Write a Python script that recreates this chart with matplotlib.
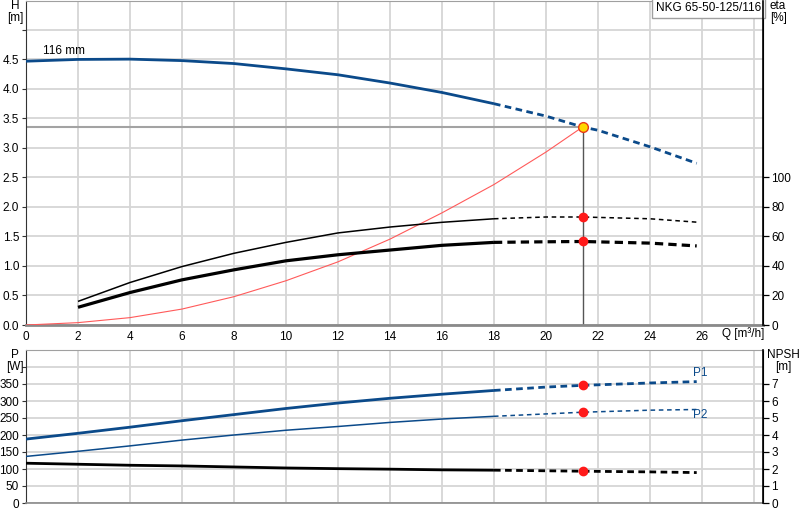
import matplotlib
matplotlib.use("Agg")
import matplotlib.pyplot as plt
import numpy as np

plt.rcParams['font.family'] = ['Liberation Sans', 'DejaVu Sans']

# ---------------- data ----------------
title_text = "NKG 65-50-125/116"
impeller_label = "116 mm"

q_split = 18.0            # curves solid up to here, dashed beyond
duty_q = 21.41
duty_h = 3.355
duty_eta_thin = 73.2
duty_eta_thick = 56.6
duty_p1 = 346
duty_p2 = 267
duty_npsh = 1.87

# head curve H [m]
h_q = [0, 2, 4, 6, 8, 10, 12, 14, 16, 18, 20, 21.41, 22, 24, 25.8]
h_val = [4.47, 4.50, 4.505, 4.48, 4.43, 4.34, 4.24, 4.10, 3.94, 3.75, 3.54, 3.355, 3.30, 3.02, 2.74]

# system curve (red) H [m]
sys_q = [0, 2, 4, 6, 8, 10, 12, 14, 16, 18, 20, 21.41]
sys_h = [0.0, 0.04, 0.125, 0.27, 0.48, 0.75, 1.07, 1.455, 1.90, 2.38, 2.93, 3.355]

# efficiency curves eta [%]
eta_q = [2, 4, 6, 8, 10, 12, 14, 16, 18, 20, 21.41, 24, 25.8]
eta_thin = [16.0, 28.8, 39.6, 48.6, 56.0, 62.4, 66.4, 69.6, 72.0, 73.2, 73.2, 72.0, 69.7]
eta_thick = [12.0, 22.0, 30.6, 37.4, 43.5, 47.6, 50.8, 54.0, 56.0, 56.4, 56.6, 55.5, 53.6]

# power curves P [W]
p_q = [0, 2, 4, 6, 8, 10, 12, 14, 16, 18, 20, 21.41, 24, 25.8]
p1 = [188, 205, 223, 242, 260, 278, 294, 308, 320, 331, 341, 346, 353, 357]
p2 = [137, 152, 168, 185, 200, 214, 225, 237, 247, 255, 262, 267, 273, 275]

# NPSH [m]
npsh_q = [0, 2, 4, 6, 8, 10, 12, 14, 16, 18, 21.41, 24, 25.8]
npsh = [2.34, 2.28, 2.22, 2.18, 2.12, 2.06, 2.02, 1.99, 1.95, 1.93, 1.87, 1.83, 1.79]

x_ticks = list(range(0, 30, 2))
x_labels = [str(v) for v in range(0, 28, 2)] + [""]
h_ticks = [0, 0.5, 1.0, 1.5, 2.0, 2.5, 3.0, 3.5, 4.0, 4.5, 5.0]
h_labels = ["0.0", "0.5", "1.0", "1.5", "2.0", "2.5", "3.0", "3.5", "4.0", "4.5", ""]
eta_ticks = [0, 20, 40, 60, 80, 100]
p_ticks = [0, 50, 100, 150, 200, 250, 300, 350, 400]
p_labels = ["0", "50", "100", "150", "200", "250", "300", "350", ""]
npsh_ticks = [0, 1, 2, 3, 4, 5, 6, 7]

# ---------------- styling ----------------
BLUE = '#0b4a8a'
GRID = '#d6d6d6'
FS = 8.5
XMAX = 28.35


def split(qs, vs, at):
    qa = np.array(qs, float)
    va = np.array(vs, float)
    s = qa <= at
    d = qa >= at
    return qa[s], va[s], qa[d], va[d]


def draw(ax, qs, vs, color, lw, dashes, zorder=3):
    a_q, a_v, b_q, b_v = split(qs, vs, q_split)
    ax.plot(a_q, a_v, color=color, lw=lw, solid_capstyle='butt', zorder=zorder)
    ax.plot(b_q, b_v, color=color, lw=lw, dashes=dashes, dash_capstyle='butt', zorder=zorder)


fig = plt.figure(figsize=(8, 5.2), dpi=100)
W, Hh = 800.0, 520.0
ax1 = fig.add_axes([26 / W, 195 / Hh, 737 / W, 324 / Hh])
ax2 = fig.add_axes([26 / W, 17 / Hh, 737 / W, 153 / Hh])

for ax in (ax1, ax2):
    ax.set_xlim(0, XMAX)
    ax.set_xticks(x_ticks)
    ax.grid(True, color=GRID, lw=1.3, zorder=0)
    ax.set_axisbelow(True)
    ax.tick_params(axis='x', length=0, labelsize=FS, pad=4)
    ax.tick_params(axis='y', length=3, width=0.8, labelsize=FS, pad=2, color='#333333')
    ax.spines['top'].set_color('#a0a0a0')
    ax.spines['bottom'].set_color('#8a8a8a')
    ax.spines['bottom'].set_linewidth(2.0)
    ax.spines['left'].set_color('#333333')
    ax.spines['right'].set_color('black')

ax1.set_xticklabels(x_labels)
ax2.set_xticklabels([])

# ---- top panel ----
ax1.set_ylim(0, 5.49)
ax1.set_yticks(h_ticks)
ax1.set_yticklabels(h_labels)

ax1r = ax1.twinx()
ax1r.set_ylim(0, 5.49 * 40)
ax1r.set_yticks(eta_ticks)
ax1r.tick_params(axis='y', length=4, width=0.9, labelsize=FS, pad=2)
ax1r.spines['right'].set_color('black')
ax1r.spines['right'].set_linewidth(1.2)
for s in ('top', 'left', 'bottom'):
    ax1r.spines[s].set_visible(False)

# duty point lines
ax1.plot([0, duty_q], [duty_h, duty_h], color='#a3a3a3', lw=1.5, zorder=2)
ax1.plot([duty_q, duty_q], [0, duty_h], color='#555555', lw=1.0, zorder=2)

# system curve
ax1.plot(sys_q, sys_h, color='#ff5a5a', lw=0.8, zorder=3)
# head curve
draw(ax1, h_q, h_val, BLUE, 2.0, (2.4, 1.6), zorder=4)
# efficiency
draw(ax1r, eta_q, eta_thin, 'black', 1.1, (3.0, 2.4))
draw(ax1r, eta_q, eta_thick, 'black', 2.3, (2.6, 1.6))
ax1r.plot([duty_q], [duty_eta_thin], 'o', color='#ff1a1a', ms=6, zorder=6)
ax1r.plot([duty_q], [duty_eta_thick], 'o', color='#ff1a1a', ms=6, zorder=6)
ax1.plot([duty_q], [duty_h], 'o', mfc='#ffd700', mec='#e83a1a', mew=1.0, ms=7, zorder=6)

ax1.text(1.47, 4.64, impeller_label, fontsize=FS, ha='center', va='center')
ax1.text(0.9975, 0.997, title_text, transform=ax1.transAxes, fontsize=FS,
         ha='right', va='top',
         bbox=dict(boxstyle='square,pad=0.35', fc='white', ec='#a0a0a0', lw=1.0), zorder=10)

fig.text(15 / W, 1 - 6 / Hh, "H", fontsize=FS, ha='center', va='center')
fig.text(15 / W, 1 - 18 / Hh, "[m]", fontsize=FS, ha='center', va='center')
fig.text(770 / W, 1 - 6 / Hh, "eta", fontsize=FS, ha='left', va='center')
fig.text(770 / W, 1 - 18 / Hh, "[%]", fontsize=FS, ha='left', va='center')
fig.text(722 / W, 1 - 334 / Hh, "Q [m\u00b3/h]", fontsize=FS, ha='left', va='center')

# ---- bottom panel ----
ax2.set_ylim(0, 450)
ax2.set_yticks(p_ticks)
ax2.set_yticklabels(p_labels)
ax2.spines['bottom'].set_linewidth(1.2)

ax2r = ax2.twinx()
ax2r.set_ylim(0, 9)
ax2r.set_yticks(npsh_ticks)
ax2r.tick_params(axis='y', length=4, width=0.9, labelsize=FS, pad=2)
ax2r.spines['right'].set_color('black')
ax2r.spines['right'].set_linewidth(1.2)
for s in ('top', 'left', 'bottom'):
    ax2r.spines[s].set_visible(False)

draw(ax2, p_q, p1, BLUE, 2.0, (2.4, 1.6))
draw(ax2, p_q, p2, BLUE, 1.1, (3.0, 2.4))
draw(ax2r, npsh_q, npsh, 'black', 2.0, (2.4, 1.6))
ax2.plot([duty_q], [duty_p1], 'o', color='#ff1a1a', ms=6, zorder=6)
ax2.plot([duty_q], [duty_p2], 'o', color='#ff1a1a', ms=6, zorder=6)
ax2r.plot([duty_q], [duty_npsh], 'o', color='#ff1a1a', ms=6, zorder=6)

ax2.text(25.65, 383, "P1", color=BLUE, fontsize=FS, ha='left', va='center')
ax2.text(25.65, 258, "P2", color=BLUE, fontsize=FS, ha='left', va='center')

fig.text(15 / W, 1 - 355 / Hh, "P", fontsize=FS, ha='center', va='center')
fig.text(15 / W, 1 - 367 / Hh, "[W]", fontsize=FS, ha='center', va='center')
fig.text(783 / W, 1 - 355 / Hh, "NPSH", fontsize=FS, ha='center', va='center')
fig.text(783 / W, 1 - 367 / Hh, "[m]", fontsize=FS, ha='center', va='center')

fig.savefig("out.png", dpi=100)
